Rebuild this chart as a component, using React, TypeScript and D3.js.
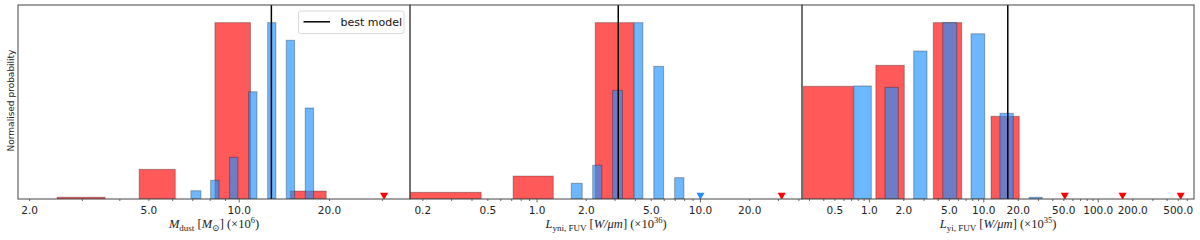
import * as d3 from 'd3';

// panel 1: dust mass (x1e6 Msun)
const massRedLo = [2.47, 4.64, 8.3, 14.8];
const massRedHi = [3.57, 6.12, 10.9, 19.5];
const massRedP = [0.01, 0.168, 1.0, 0.045];
const massBlueLo = [6.9, 8.03, 9.29, 10.75, 12.44, 14.35, 16.6];
const massBlueHi = [7.45, 8.56, 9.9, 11.46, 13.25, 15.3, 17.7];
const massBlueP = [0.047, 0.106, 0.236, 0.608, 1.0, 0.9, 0.516];
const massRedLimits = [30.4];
const massBlueLimits: number[] = [];
const massBest = 12.8;
const massTicks = [2, 5, 10, 20];
const massDomain = [1.83, 37.1];

// panel 2: L_yni,FUV (x1e36)
const yniRedLo = [0.167, 0.714, 2.27];
const yniRedHi = [0.455, 1.257, 3.91];
const yniRedP = [0.038, 0.13, 1.0];
const yniBlueLo = [1.62, 2.19, 2.9, 3.93, 5.18, 6.95];
const yniBlueHi = [1.89, 2.49, 3.33, 4.44, 5.95, 7.92];
const yniBlueP = [0.089, 0.191, 0.616, 1.0, 0.752, 0.121];
const yniRedLimits = [31.4];
const yniBlueLimits = [10];
const yniBest = 3.14;
const yniTicks = [0.2, 0.5, 1, 2, 5, 10, 20];
const yniDomain = [0.167, 41.8];

// panel 3: L_yi,FUV (x1e35)
const yiRedLo = [0.265, 1.14, 3.62, 11.56];
const yiRedHi = [0.725, 2.02, 6.41, 20.4];
const yiRedP = [0.639, 0.758, 1.0, 0.469];
const yiBlueLo = [0.731, 1.37, 2.44, 4.38, 7.73, 13.84, 24.9];
const yiBlueHi = [1.04, 1.79, 3.19, 5.8, 10.18, 18.1, 32.4];
const yiBlueP = [0.641, 0.633, 0.839, 1.0, 0.937, 0.486, 0.01];
const yiRedLimits = [51, 163, 525];
const yiBlueLimits: number[] = [];
const yiBest = 16.2;
const yiTicks = [0.5, 1, 2, 5, 10, 20, 50, 100, 200, 500];
const yiDomain = [0.258, 686];

const TOP = 5;
const BOTTOM = 199;
const SANS = 'DejaVu Sans, sans-serif';
const SERIF = 'Liberation Serif, DejaVu Serif, serif';

const panels = [
  {
    id: 'mass', left: 18, right: 410, domain: massDomain,
    red: massRedLo.map((lo, i) => ({ lo, hi: massRedHi[i], p: massRedP[i] })),
    blue: massBlueLo.map((lo, i) => ({ lo, hi: massBlueHi[i], p: massBlueP[i] })),
    redLim: massRedLimits, blueLim: massBlueLimits, best: massBest, ticks: massTicks,
    label: (
      <>
        <tspan fontStyle="italic">M</tspan>
        <tspan dy={3} fontSize={9}>dust</tspan>
        <tspan dy={-3}> [</tspan>
        <tspan fontStyle="italic">M</tspan>
        <tspan dy={3} fontSize={9}>⊙</tspan>
        <tspan dy={-3}>] (×10</tspan>
        <tspan dy={-5} fontSize={8.5}>6</tspan>
        <tspan dy={5}>)</tspan>
      </>
    ),
  },
  {
    id: 'yni', left: 410, right: 802, domain: yniDomain,
    red: yniRedLo.map((lo, i) => ({ lo, hi: yniRedHi[i], p: yniRedP[i] })),
    blue: yniBlueLo.map((lo, i) => ({ lo, hi: yniBlueHi[i], p: yniBlueP[i] })),
    redLim: yniRedLimits, blueLim: yniBlueLimits, best: yniBest, ticks: yniTicks,
    label: (
      <>
        <tspan fontStyle="italic">L</tspan>
        <tspan dy={3} fontSize={9}>yni, FUV</tspan>
        <tspan dy={-3}> [</tspan>
        <tspan fontStyle="italic">W/μm</tspan>
        <tspan>] (×10</tspan>
        <tspan dy={-5} fontSize={8.5}>36</tspan>
        <tspan dy={5}>)</tspan>
      </>
    ),
  },
  {
    id: 'yi', left: 802, right: 1194, domain: yiDomain,
    red: yiRedLo.map((lo, i) => ({ lo, hi: yiRedHi[i], p: yiRedP[i] })),
    blue: yiBlueLo.map((lo, i) => ({ lo, hi: yiBlueHi[i], p: yiBlueP[i] })),
    redLim: yiRedLimits, blueLim: yiBlueLimits, best: yiBest, ticks: yiTicks,
    label: (
      <>
        <tspan fontStyle="italic">L</tspan>
        <tspan dy={3} fontSize={9}>yi, FUV</tspan>
        <tspan dy={-3}> [</tspan>
        <tspan fontStyle="italic">W/μm</tspan>
        <tspan>] (×10</tspan>
        <tspan dy={-5} fontSize={8.5}>35</tspan>
        <tspan dy={5}>)</tspan>
      </>
    ),
  },
];

const y = d3.scaleLinear().domain([0, 1.1]).range([BOTTOM, TOP]);
const fmt = d3.format('.1f');

function tri(cx: number, cy: number) {
  return `M${cx - 4},${cy - 3.5}L${cx + 4},${cy - 3.5}L${cx},${cy + 3.5}Z`;
}

function Panel({ p }: { p: (typeof panels)[number] }) {
  const x = d3.scaleLog().domain(p.domain).range([p.left, p.right]);
  const allTicks = x.ticks();
  const clipId = `clip-${p.id}`;
  return (
    <g>
      <clipPath id={clipId}>
        <rect x={p.left} y={TOP} width={p.right - p.left} height={BOTTOM - TOP} />
      </clipPath>
      <g clipPath={`url(#${clipId})`}>
        {p.red.map((b, i) => (
          <rect key={`r${i}`} x={x(b.lo)} y={y(b.p)} width={x(b.hi) - x(b.lo)} height={y(0) - y(b.p)}
            fill="red" fillOpacity={0.65} stroke="rgba(0,0,0,0.3)" strokeWidth={1} />
        ))}
        {p.blue.map((b, i) => (
          <rect key={`b${i}`} x={x(b.lo)} y={y(b.p)} width={x(b.hi) - x(b.lo)} height={y(0) - y(b.p)}
            fill="dodgerblue" fillOpacity={0.65} stroke="rgba(0,0,0,0.3)" strokeWidth={1} />
        ))}
        {p.redLim.map((v, i) => (
          <path key={`rl${i}`} d={tri(x(v), y(0.015))} fill="red" />
        ))}
        {p.blueLim.map((v, i) => (
          <path key={`bl${i}`} d={tri(x(v), y(0.015))} fill="#1e90ff" />
        ))}
        <line x1={x(p.best)} x2={x(p.best)} y1={TOP} y2={BOTTOM} stroke="#000" strokeWidth={1.5} />
      </g>
      <rect x={p.left} y={TOP} width={p.right - p.left} height={BOTTOM - TOP} fill="none" stroke="#444" strokeWidth={1} />
      {allTicks.map((t, i) => {
        const major = Math.abs(Math.log10(t) - Math.round(Math.log10(t))) < 1e-9;
        return (
          <line key={`t${i}`} x1={x(t)} x2={x(t)} y1={BOTTOM} y2={BOTTOM + (major ? 3.5 : 2)} stroke="#444" strokeWidth={0.8} />
        );
      })}
      {p.ticks.map((t) => (
        <text key={`l${t}`} x={x(t)} y={BOTTOM + 15} textAnchor="middle" fontFamily={SANS} fontSize={10.5} fill="#222">
          {fmt(t)}
        </text>
      ))}
      <text x={(p.left + p.right) / 2} y={228} textAnchor="middle" fontFamily={SERIF} fontSize={12.5} fill="#222">
        {p.label}
      </text>
    </g>
  );
}

export default function App() {
  return (
    <svg width={1200} height={240} style={{ position: 'absolute', left: 0, top: 0, background: '#fff' }}>
      {panels.map((p) => <Panel key={p.id} p={p} />)}
      <text transform="translate(14,100.5) rotate(-90)" textAnchor="middle" fontFamily={SANS} fontSize={9} fill="#222">
        Normalised probability
      </text>
      <g>
        <rect x={298.5} y={11} width={105.5} height={22.5} rx={2} fill="#fff" fillOpacity={0.8} stroke="#d0d0d0" strokeWidth={0.8} />
        <line x1={303.5} x2={330} y1={21.8} y2={21.8} stroke="#000" strokeWidth={1.5} />
        <text x={340.5} y={25.8} fontFamily={SANS} fontSize={11} fill="#111">best model</text>
      </g>
    </svg>
  );
}
